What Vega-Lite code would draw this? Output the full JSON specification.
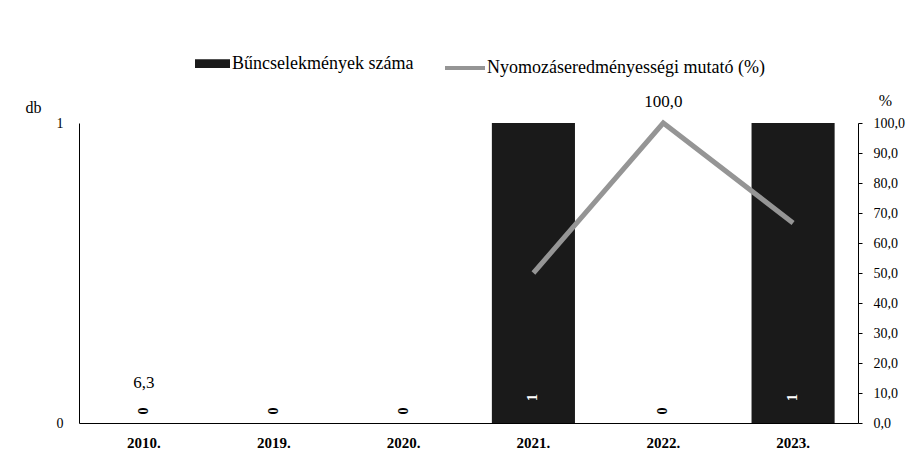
{
  "$schema": "https://vega.github.io/schema/vega-lite/v6.json",
  "width": 779,
  "height": 300,
  "autosize": "none",
  "padding": {"left": 79, "top": 123, "right": 57, "bottom": 50},
  "background": "white",
  "config": {
    "view": {"stroke": null},
    "font": "'Liberation Serif', 'Times New Roman', serif",
    "locale": {"number": {"decimal": ",", "thousands": " ", "grouping": [3], "currency": ["", " Ft"]}}
  },
  "data": {
    "values": [
      {"ev": "2010.", "db": 0, "pct": 6.3},
      {"ev": "2019.", "db": 0, "pct": null},
      {"ev": "2020.", "db": 0, "pct": null},
      {"ev": "2021.", "db": 1, "pct": 50},
      {"ev": "2022.", "db": 0, "pct": 100},
      {"ev": "2023.", "db": 1, "pct": 66.7}
    ]
  },
  "encoding": {
    "x": {
      "field": "ev",
      "type": "ordinal",
      "sort": null,
      "scale": {"paddingInner": 0.36, "paddingOuter": 0.18},
      "axis": {
        "title": null,
        "labelAngle": 0,
        "labelFontSize": 15,
        "labelFontWeight": "bold",
        "ticks": false,
        "labelPadding": 12,
        "domainColor": "black",
        "labelColor": "black"
      }
    }
  },
  "layer": [
    {
      "layer": [
        {
          "mark": {"type": "bar", "color": "#1a1a1a"},
          "encoding": {
            "y": {
              "field": "db",
              "type": "quantitative",
              "scale": {"domain": [0, 1]},
              "axis": {
                "orient": "left",
                "values": [0, 1],
                "format": "d",
                "title": "db",
                "titleAngle": 0,
                "titleX": -46,
                "titleY": -16,
                "titleAlign": "center",
                "titleBaseline": "middle",
                "titleFontSize": 16,
                "titleFontWeight": "normal",
                "titleColor": "black",
                "labelFontSize": 14,
                "labelColor": "black",
                "ticks": false,
                "labelPadding": 16,
                "grid": false,
                "domainColor": "black"
              }
            },
            "fill": {
              "datum": "Bűncselekmények száma",
              "scale": {"range": ["#1a1a1a"]},
              "legend": {
                "orient": "none",
                "legendX": 116,
                "legendY": -77,
                "title": null,
                "symbolType": "M-1,-0.25H1V0.25H-1Z",
                "symbolSize": 1225,
                "symbolStrokeWidth": 0,
                "labelFontSize": 18,
                "labelOffset": 2,
                "labelLimit": 400,
                "labelColor": "black"
              }
            }
          }
        },
        {
          "transform": [{"filter": "datum.db == 0"}],
          "mark": {"type": "text", "angle": 270, "fontSize": 14, "fontWeight": "bold", "color": "black", "baseline": "middle", "align": "center"},
          "encoding": {
            "y": {"datum": 0.04, "type": "quantitative"},
            "text": {"field": "db", "type": "quantitative"}
          }
        },
        {
          "transform": [{"filter": "datum.db == 1"}],
          "mark": {"type": "text", "angle": 270, "fontSize": 14, "fontWeight": "bold", "color": "white", "baseline": "middle", "align": "center"},
          "encoding": {
            "y": {"datum": 0.085, "type": "quantitative"},
            "text": {"field": "db", "type": "quantitative"}
          }
        }
      ]
    },
    {
      "encoding": {
        "y": {
          "field": "pct",
          "type": "quantitative",
          "scale": {"domain": [0, 100]},
          "axis": {
            "orient": "right",
            "values": [0, 10, 20, 30, 40, 50, 60, 70, 80, 90, 100],
            "format": ".1f",
            "labelOverlap": false,
            "title": "%",
            "titleAngle": 0,
            "titleX": 27,
            "titleY": -23,
            "titleAlign": "center",
            "titleBaseline": "middle",
            "titleFontSize": 16,
            "titleFontWeight": "normal",
            "titleColor": "black",
            "labelFontSize": 14,
            "labelColor": "black",
            "tickSize": 4,
            "tickColor": "black",
            "labelPadding": 11,
            "grid": false,
            "domainColor": "black"
          }
        }
      },
      "layer": [
        {
          "mark": {"type": "line", "strokeWidth": 5, "invalid": "break-paths-show-domains"},
          "encoding": {
            "stroke": {
              "datum": "Nyomozáseredményességi mutató (%)",
              "scale": {"range": ["#959595"]},
              "legend": {
                "orient": "none",
                "legendX": 364,
                "legendY": -77,
                "title": null,
                "symbolSize": 1600,
                "symbolStrokeWidth": 4,
                "labelFontSize": 18,
                "labelOffset": 0,
                "labelLimit": 400,
                "labelColor": "black"
              }
            }
          }
        },
        {
          "transform": [{"filter": "datum.ev == '2010.' || datum.ev == '2022.'"}],
          "mark": {"type": "text", "fontSize": 17, "color": "black", "baseline": "middle", "dy": -21},
          "encoding": {
            "text": {"field": "pct", "type": "quantitative", "format": ".1f"}
          }
        }
      ]
    }
  ],
  "resolve": {"scale": {"y": "independent"}}
}
